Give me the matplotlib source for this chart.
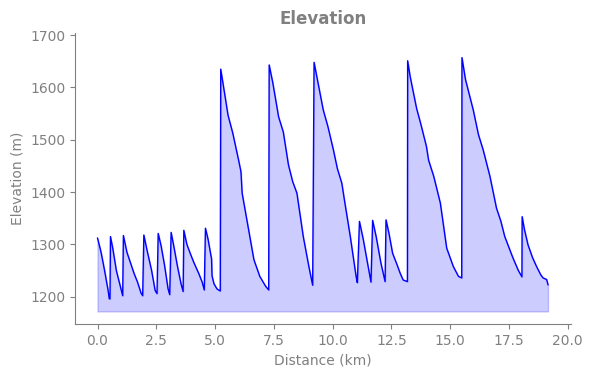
import numpy as np
import matplotlib.pyplot as plt

# distance (km) / elevation (m)
dist = [0, 0.15, 0.3, 0.45, 0.5, 0.53,
        0.55, 0.65, 0.8, 1.0, 1.07,
        1.1, 1.25, 1.4, 1.55, 1.7, 1.85, 1.92,
        1.97, 2.1, 2.3, 2.45, 2.53,
        2.58, 2.7, 2.85, 3.0, 3.07,
        3.13, 3.25, 3.4, 3.55, 3.64,
        3.67, 3.8, 3.95, 4.1, 4.3, 4.45, 4.54,
        4.59, 4.7, 4.85, 4.87, 4.95, 5.08, 5.22,
        5.24, 5.4, 5.55, 5.75, 6.0, 6.1, 6.15, 6.3, 6.45, 6.65, 6.9, 7.15, 7.28,
        7.3, 7.45, 7.7, 7.9, 8.12, 8.3, 8.48, 8.75, 9.0, 9.15,
        9.21, 9.35, 9.6, 9.8, 10.03, 10.2, 10.39, 10.5, 10.75, 11.0, 11.05,
        11.14, 11.3, 11.5, 11.63,
        11.7, 11.85, 12.05, 12.23,
        12.27, 12.4, 12.55, 12.75, 12.87, 13.0, 13.18,
        13.19, 13.3, 13.57, 13.75, 13.99, 14.08, 14.3, 14.58, 14.85, 15.13, 15.35, 15.49,
        15.5, 15.65, 15.98, 16.2, 16.4, 16.69, 16.97, 17.15, 17.32, 17.67, 17.9, 18.05,
        18.06, 18.15, 18.31, 18.5, 18.67, 18.85, 18.95, 19.1, 19.16]
elev = [1312, 1285, 1250, 1212, 1196, 1196,
        1315, 1292, 1250, 1215, 1202,
        1317, 1285, 1265, 1245, 1228, 1207, 1202,
        1318, 1290, 1250, 1212, 1206,
        1321, 1298, 1260, 1215, 1204,
        1323, 1295, 1258, 1225, 1210,
        1327, 1300, 1282, 1265, 1245, 1228, 1213,
        1331, 1310, 1272, 1240, 1225, 1215, 1211,
        1635, 1590, 1547, 1513, 1461, 1439, 1398, 1360, 1322, 1271, 1239, 1220, 1213,
        1643, 1610, 1544, 1515, 1452, 1420, 1398, 1315, 1255, 1222,
        1648, 1615, 1557, 1525, 1481, 1445, 1417, 1385, 1315, 1238, 1227,
        1344, 1310, 1260, 1228,
        1346, 1315, 1265, 1229,
        1347, 1320, 1283, 1260, 1245, 1232, 1229,
        1651, 1620, 1560, 1530, 1487, 1461, 1430, 1379, 1293, 1258, 1239, 1236,
        1657, 1615, 1557, 1510, 1481, 1430, 1369, 1345, 1315, 1274, 1250, 1238,
        1353, 1330, 1299, 1275, 1258, 1242, 1236, 1233, 1223]
base = 1172

dist = np.array(dist)
elev = np.array(elev)

fig = plt.figure(figsize=(5.92, 3.78), dpi=100)
ax = fig.add_axes([0.127, 0.143, 0.838, 0.771])

ax.plot(dist, elev, color='blue', linewidth=1)
ax.fill_between(dist, elev, base, color='blue', alpha=0.2)

ax.set_xlim(-0.95, 20.15)
ax.set_ylim(1148, 1705)
ax.set_title("Elevation", color='gray', fontweight='bold', fontsize=12)
ax.set_xlabel("Distance (km)", color='gray')
ax.set_ylabel("Elevation (m)", color='gray')

for s in ['top', 'right']:
    ax.spines[s].set_visible(False)
for s in ['left', 'bottom']:
    ax.spines[s].set_color('gray')
ax.tick_params(colors='gray')

plt.savefig("out.png", dpi=100)
